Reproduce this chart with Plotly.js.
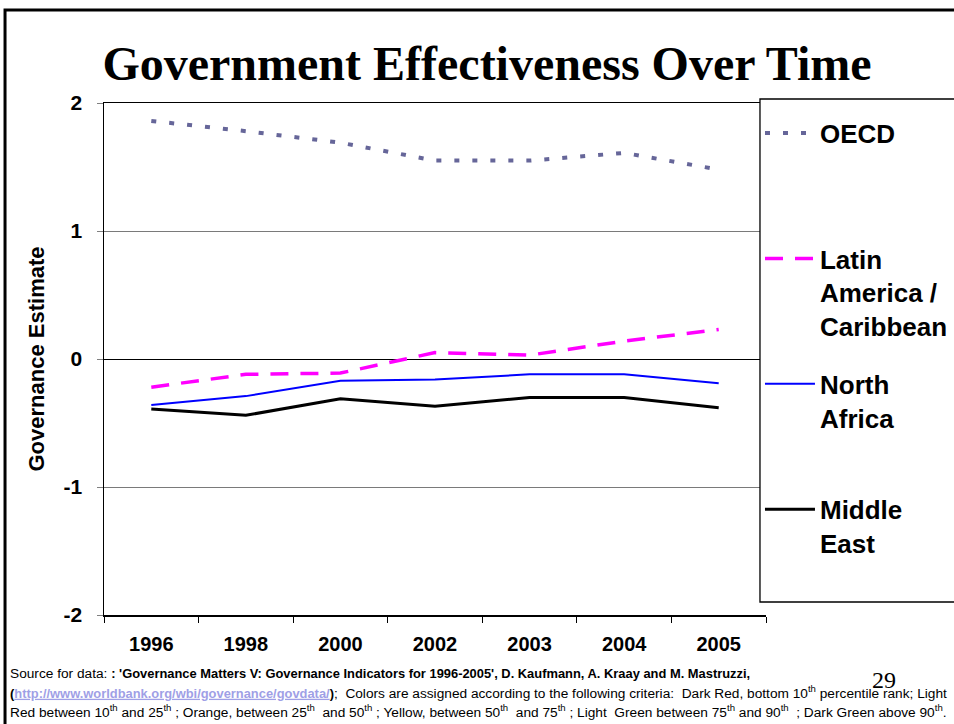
<!DOCTYPE html>
<html>
<head>
<meta charset="utf-8">
<script src="https://cdn.plot.ly/plotly-3.0.1.min.js"></script>
<style>
  html, body { margin: 0; padding: 0; background: #ffffff; }
  #chart { width: 954px; height: 724px; }
</style>
</head>
<body>
<div id="chart"></div>
<script>
// ---- data ----
var years = ['1996', '1998', '2000', '2002', '2003', '2004', '2005'];
var oecd = [1.86, 1.78, 1.69, 1.55, 1.55, 1.61, 1.48];
var latinAmerica = [-0.22, -0.12, -0.11, 0.05, 0.03, 0.14, 0.23];
var northAfrica = [-0.36, -0.29, -0.17, -0.16, -0.12, -0.12, -0.19];
var middleEast = [-0.39, -0.44, -0.31, -0.37, -0.30, -0.30, -0.38];
var yTicks = [-2, -1, 0, 1, 2];
var yTickLabels = ['-2', '-1', '0', '1', '2'];

var seriesNames = ['OECD', 'Latin<br>America /<br>Caribbean', 'North<br>Africa', 'Middle<br>East'];

function pad(name) {
  var n = name.split('<br>').length;
  var s = name;
  for (var i = n; i < 3; i++) s += '<br>\u00a0';
  return s;
}

var traces = [
  { x: years, y: oecd, name: pad(seriesNames[0]), legendgroup: 'g1', type: 'scatter', mode: 'lines',
    line: { color: '#666699', width: 4, dash: '5px,13px' } },
  { x: years, y: latinAmerica, name: pad(seriesNames[1]), legendgroup: 'g2', type: 'scatter', mode: 'lines',
    line: { color: '#FF00FF', width: 3.5, dash: '18px,12px' } },
  { x: years, y: northAfrica, name: pad(seriesNames[2]), legendgroup: 'g3', type: 'scatter', mode: 'lines',
    line: { color: '#0000FF', width: 2 } },
  { x: years, y: middleEast, name: pad(seriesNames[3]), legendgroup: 'g4', type: 'scatter', mode: 'lines',
    line: { color: '#000000', width: 3 } }
];

var footFont = { family: 'Liberation Sans, Arial, sans-serif', size: 13.7, color: '#000000' };
var B = "<span style='font-size:12.9px'><b>";
var E = "</b></span>";
var line1 = "Source for data: " + B + ": 'Governance Matters V: Governance Indicators for 1996-2005', D. Kaufmann, A. Kraay and M. Mastruzzi," + E;
var line2 = B + "(<span style='color:#9f9fe6'><u>http://www.worldbank.org/wbi/governance/govdata/</u></span>)" + E + ";  Colors are assigned according to the following criteria:  Dark Red, bottom 10<sup>th</sup> percentile rank; Light";
var line3 = "Red between 10<sup>th</sup> and 25<sup>th</sup> ; Orange, between 25<sup>th</sup>  and 50<sup>th</sup> ; Yellow, between 50<sup>th</sup>  and 75<sup>th</sup> ; Light  Green between 75<sup>th</sup> and 90<sup>th</sup>  ; Dark Green above 90<sup>th</sup>.";

var layout = {
  width: 954, height: 724,
  margin: { l: 104, r: 188, t: 103, b: 109, pad: 0, autoexpand: false },
  paper_bgcolor: '#ffffff', plot_bgcolor: '#ffffff',
  showlegend: true,
  title: {
    text: 'Government Effectiveness Over Time',
    font: { family: 'Liberation Serif, Times New Roman, serif', size: 48, weight: 'bold', color: '#000000' },
    xref: 'container', yref: 'container', x: 0.5105, y: 0.913, xanchor: 'center', yanchor: 'middle'
  },
  xaxis: {
    type: 'category', range: [-0.5, 6.5], fixedrange: true,
    showline: true, linecolor: '#000000', linewidth: 1.5, mirror: true,
    showgrid: false, zeroline: false,
    ticks: 'outside', tickson: 'boundaries', ticklen: 6, tickcolor: '#000000', tickwidth: 1,
    tickfont: { family: 'Liberation Sans, Arial, sans-serif', size: 20, weight: 'bold', color: '#000000' },
    ticklabelstandoff: 10
  },
  yaxis: {
    range: [-2, 2], fixedrange: true,
    tickvals: yTicks, ticktext: yTickLabels,
    showline: true, linecolor: '#000000', linewidth: 1.5,
    showgrid: true, gridcolor: '#7a7a7a', gridwidth: 1,
    zeroline: true, zerolinecolor: '#000000', zerolinewidth: 1,
    ticks: 'outside', ticklen: 6, tickcolor: '#808080',
    tickfont: { family: 'Liberation Sans, Arial, sans-serif', size: 21, weight: 'bold', color: '#000000' },
    ticklabelstandoff: 10,
    title: { text: 'Governance Estimate', standoff: 13,
      font: { family: 'Liberation Sans, Arial, sans-serif', size: 22, weight: 'bold', color: '#000000' } }
  },
  legend: {
    x: 0.9909, xanchor: 'left', y: 0.987, yanchor: 'top',
    bgcolor: 'rgba(0,0,0,0)', borderwidth: 0,
    valign: 'top', itemwidth: 50, tracegroupgap: 21,
    font: { family: 'Liberation Sans, Arial, sans-serif', size: 26, weight: 'bold', color: '#000000' }
  },
  shapes: [
    { type: 'rect', xref: 'paper', yref: 'paper', x0: 0.9909, x1: 1.32, y0: 0.0254, y1: 1.0078,
      line: { color: '#000000', width: 1.3 }, fillcolor: '#ffffff', layer: 'above' },
    { type: 'path', xref: 'paper', yref: 'paper',
      path: 'M -0.1495,-0.22 L -0.1495,1.1817 L 1.3,1.1817',
      line: { color: '#000000', width: 3 }, layer: 'above' }
  ],
  annotations: [
    { xref: 'paper', yref: 'paper', x: -0.145, y: -0.1133, xanchor: 'left', yanchor: 'middle', showarrow: false, align: 'left', text: line1, font: footFont },
    { xref: 'paper', yref: 'paper', x: -0.145, y: -0.1504, xanchor: 'left', yanchor: 'middle', showarrow: false, align: 'left', text: line2, font: footFont },
    { xref: 'paper', yref: 'paper', x: -0.145, y: -0.1875, xanchor: 'left', yanchor: 'middle', showarrow: false, align: 'left', text: line3, font: footFont },
    { xref: 'paper', yref: 'paper', x: 1.1782, y: -0.127, xanchor: 'center', yanchor: 'middle', showarrow: false, text: '29',
      font: { family: 'Liberation Serif, Times New Roman, serif', size: 24, color: '#000000' } }
  ]
};

Plotly.newPlot('chart', traces, layout, { displayModeBar: false, staticPlot: true });
</script>
</body>
</html>
